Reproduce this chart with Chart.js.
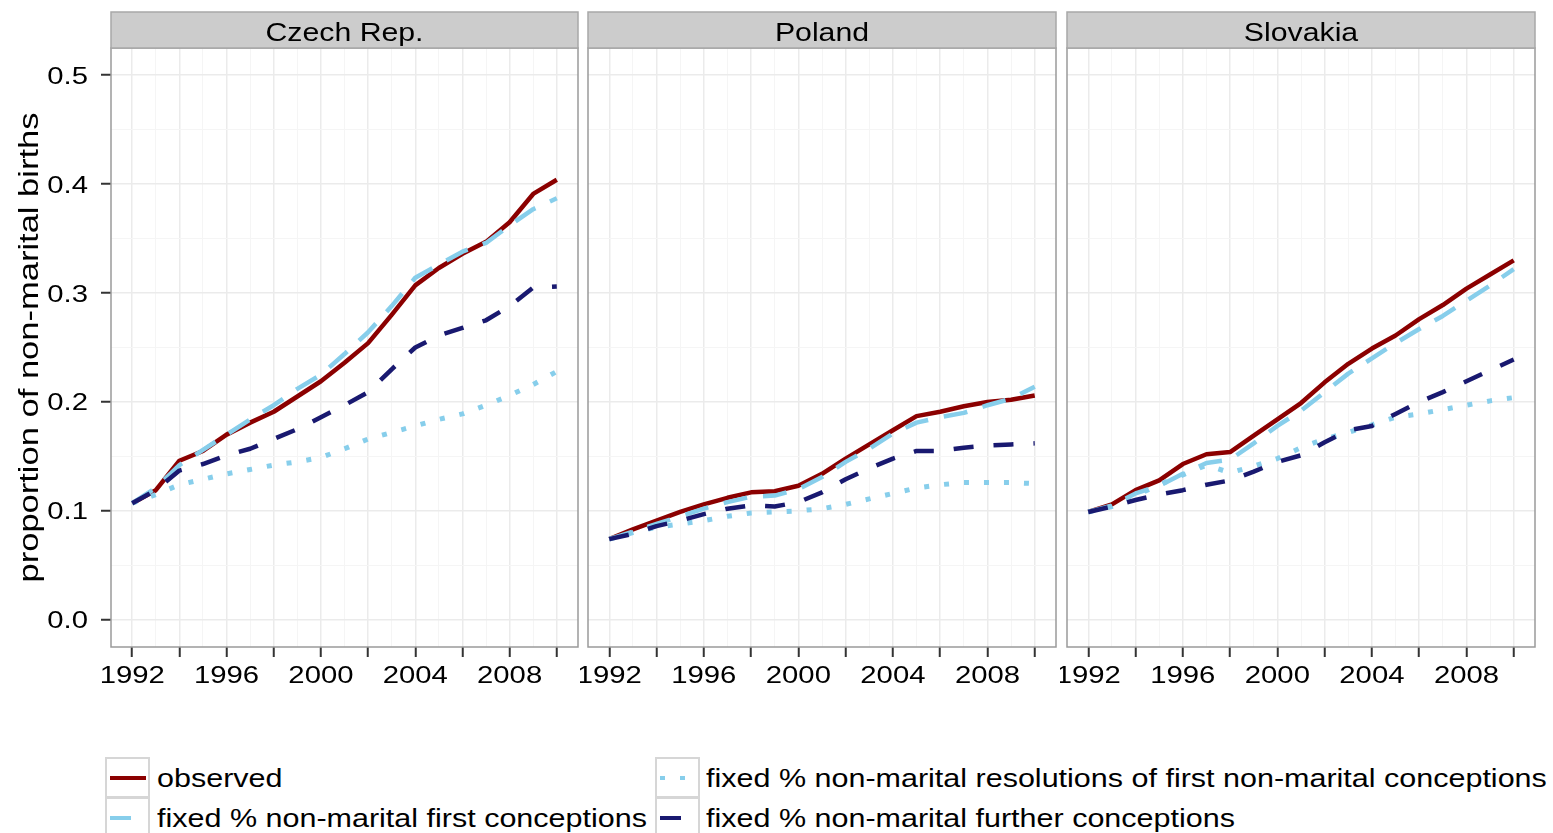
<!DOCTYPE html>
<html>
<head>
<meta charset="utf-8">
<script src="https://cdn.jsdelivr.net/npm/chart.js@4.4.1/dist/chart.umd.min.js"></script>
<style>
  body { margin: 0; width: 1553px; height: 833px; overflow: hidden; position: relative; background: #fff;
         font-family: "Liberation Sans", Arial, sans-serif; }
  canvas { position: absolute; top: 0; }
  #c1 { left: 0; }
  #c2 { left: 580px; }
  #c3 { left: 1060px; }
  .key { position: absolute; width: 45px; height: 41px; box-sizing: border-box; border: 2px solid #d6d6d6; background: #fff; }
  .key div { position: absolute; height: 4px; }
  .lab { position: absolute; font-size: 25px; line-height: 40px; height: 40px; white-space: nowrap; color: #000;
         transform: scaleX(1.22); transform-origin: 0 0; }
</style>
</head>
<body>
<canvas id="c1" width="580" height="700"></canvas>
<canvas id="c2" width="480" height="700"></canvas>
<canvas id="c3" width="493" height="700"></canvas>

<div class="key" style="left:105px;top:757px"><div style="left:3px;top:17px;width:36px;background:#8b0000"></div></div>
<div class="lab" style="left:157px;top:758px" id="l0"></div>
<div class="key" style="left:105px;top:797px"><div style="left:3px;top:17px;width:21px;background:#87ceeb"></div></div>
<div class="lab" style="left:157px;top:798px" id="l1"></div>
<div class="key" style="left:655px;top:757px"><div style="left:3px;top:17px;width:5px;background:#87ceeb"></div><div style="left:23px;top:17px;width:5px;background:#87ceeb"></div></div>
<div class="lab" style="left:706px;top:758px" id="l2"></div>
<div class="key" style="left:655px;top:797px"><div style="left:3px;top:17px;width:21px;background:#191970"></div></div>
<div class="lab" style="left:706px;top:798px" id="l3"></div>

<script>
// data
const years = [1992, 1993, 1994, 1995, 1996, 1997, 1998, 1999, 2000, 2001, 2002, 2003, 2004, 2005, 2006, 2007, 2008, 2009, 2010];
const countries = ['Czech Rep.', 'Poland', 'Slovakia'];
const seriesNames = ['observed', 'fixed % non-marital first conceptions',
  'fixed % non-marital resolutions of first non-marital conceptions', 'fixed % non-marital further conceptions'];
const xTickYears = [1992, 1994, 1996, 1998, 2000, 2002, 2004, 2006, 2008, 2010];
const xTickLabels = ['1992', '', '1996', '', '2000', '', '2004', '', '2008', ''];
const yTicks = [0, 0.1, 0.2, 0.3, 0.4, 0.5];
const yTickLabels = ['0.0', '0.1', '0.2', '0.3', '0.4', '0.5'];
const yMinor = [0.05, 0.15, 0.25, 0.35, 0.45];
const yTitle = 'proportion of non-marital births';

const czObserved = [0.107, 0.119, 0.146, 0.155, 0.170, 0.181, 0.191, 0.205, 0.219, 0.236, 0.254, 0.280, 0.307, 0.323, 0.336, 0.347, 0.365, 0.391, 0.404];
const czFirst    = [0.107, 0.121, 0.142, 0.156, 0.170, 0.184, 0.197, 0.212, 0.225, 0.244, 0.264, 0.288, 0.314, 0.326, 0.338, 0.346, 0.362, 0.377, 0.387];
const czResol    = [0.107, 0.115, 0.124, 0.129, 0.134, 0.138, 0.142, 0.145, 0.149, 0.157, 0.166, 0.172, 0.178, 0.184, 0.189, 0.197, 0.206, 0.216, 0.228];
const czFurther  = [0.107, 0.119, 0.137, 0.143, 0.151, 0.157, 0.166, 0.175, 0.186, 0.197, 0.209, 0.230, 0.250, 0.261, 0.268, 0.275, 0.288, 0.305, 0.306];

const plObserved = [0.074, 0.083, 0.091, 0.099, 0.106, 0.112, 0.117, 0.118, 0.123, 0.134, 0.148, 0.161, 0.174, 0.187, 0.191, 0.196, 0.200, 0.202, 0.206];
const plFirst    = [0.074, 0.081, 0.088, 0.095, 0.102, 0.108, 0.113, 0.114, 0.120, 0.131, 0.145, 0.157, 0.171, 0.181, 0.186, 0.190, 0.197, 0.203, 0.214];
const plResol    = [0.074, 0.080, 0.085, 0.088, 0.091, 0.095, 0.098, 0.099, 0.100, 0.102, 0.106, 0.111, 0.116, 0.121, 0.124, 0.126, 0.126, 0.126, 0.125];
const plFurther  = [0.074, 0.079, 0.086, 0.091, 0.097, 0.102, 0.105, 0.104, 0.108, 0.117, 0.129, 0.139, 0.148, 0.155, 0.155, 0.158, 0.160, 0.161, 0.162];

const skObserved = [0.099, 0.106, 0.119, 0.128, 0.143, 0.152, 0.154, 0.169, 0.184, 0.199, 0.218, 0.235, 0.249, 0.261, 0.276, 0.289, 0.304, 0.317, 0.330];
const skFirst    = [0.099, 0.105, 0.116, 0.123, 0.134, 0.144, 0.147, 0.162, 0.178, 0.192, 0.209, 0.226, 0.240, 0.254, 0.267, 0.279, 0.293, 0.307, 0.322];
const skResol    = [0.099, 0.104, 0.114, 0.124, 0.133, 0.142, 0.135, 0.141, 0.148, 0.158, 0.166, 0.172, 0.179, 0.186, 0.189, 0.193, 0.197, 0.201, 0.204];
const skFurther  = [0.099, 0.104, 0.110, 0.115, 0.119, 0.124, 0.128, 0.136, 0.145, 0.151, 0.163, 0.174, 0.178, 0.189, 0.200, 0.209, 0.219, 0.229, 0.239];

const panels = [
  [czObserved, czFirst, czResol, czFurther],
  [plObserved, plFirst, plResol, plFurther],
  [skObserved, skFirst, skResol, skFurther]
];

// line looks, same order as seriesNames
const looks = [
  { color: '#8b0000', dash: [], width: 4.5, order: 4 },
  { color: '#87ceeb', dash: [24, 16], width: 4.5, order: 3 },
  { color: '#87ceeb', dash: [5, 15], width: 5, order: 2 },
  { color: '#191970', dash: [20, 20], width: 4.5, order: 1 }
];

seriesNames.forEach((n, i) => { document.getElementById('l' + i).textContent = n; });

function isMajorY(v) { return yTicks.some(t => Math.abs(t - v) < 1e-9); }

function stretchText(ctx, txt, x, y, align, sx, font) {
  ctx.save();
  ctx.font = font;
  ctx.fillStyle = '#000';
  ctx.textAlign = align;
  ctx.textBaseline = 'alphabetic';
  ctx.translate(x, y);
  ctx.scale(sx, 1);
  ctx.fillText(txt, 0, 0);
  ctx.restore();
}

function panelDecor(name, first) {
  return {
    id: 'panelDecor',
    afterDraw(chart) {
      const { ctx, chartArea: a, scales } = chart;
      ctx.save();
      // panel border
      ctx.strokeStyle = '#9a9a9a';
      ctx.lineWidth = 1.5;
      ctx.strokeRect(a.left, a.top, a.right - a.left, a.bottom - a.top);
      // strip
      ctx.fillStyle = '#cccccc';
      ctx.fillRect(a.left, 12, a.right - a.left, a.top - 12);
      ctx.strokeStyle = '#a8a8a8';
      ctx.strokeRect(a.left, 12, a.right - a.left, a.top - 12);
      ctx.restore();
      stretchText(ctx, name, (a.left + a.right) / 2, 41, 'center', 1.21, '25px "Liberation Sans", Arial, sans-serif');
      // x labels
      xTickYears.forEach((v, i) => {
        if (xTickLabels[i]) stretchText(ctx, xTickLabels[i], scales.x.getPixelForValue(v), 683, 'center', 1.22, '24px "Liberation Sans", Arial, sans-serif');
      });
      if (first) {
        yTicks.forEach((v, i) => {
          stretchText(ctx, yTickLabels[i], 88, scales.y.getPixelForValue(v) + 8.5, 'right', 1.22, '24px "Liberation Sans", Arial, sans-serif');
        });
        ctx.save();
        ctx.font = '27px "Liberation Sans", Arial, sans-serif';
        const w = ctx.measureText(yTitle).width;
        ctx.fillStyle = '#000';
        ctx.textAlign = 'center';
        ctx.translate(38, (a.top + a.bottom) / 2);
        ctx.rotate(-Math.PI / 2);
        ctx.scale(470 / w, 1);
        ctx.fillText(yTitle, 0, 0);
        ctx.restore();
      }
    }
  };
}

function makeChart(id, idx, padLeft, padRight, first) {
  const datasets = panels[idx].map((vals, s) => ({
    label: seriesNames[s],
    data: years.map((y, k) => ({ x: y, y: vals[k] })),
    borderColor: looks[s].color,
    borderDash: looks[s].dash,
    borderWidth: looks[s].width,
    borderCapStyle: 'butt',
    borderJoinStyle: 'round',
    pointRadius: 0,
    fill: false,
    tension: 0,
    order: looks[s].order
  }));
  return new Chart(document.getElementById(id), {
    type: 'line',
    data: { datasets: datasets },
    options: {
      responsive: false,
      animation: false,
      events: [],
      layout: { padding: { left: padLeft, right: padRight, top: 48, bottom: 0 } },
      plugins: { legend: { display: false }, tooltip: { enabled: false } },
      scales: {
        x: {
          type: 'linear', min: 1991.1, max: 2010.9,
          afterBuildTicks: s => { s.ticks = years.map(v => ({ value: v })); },
          afterFit: s => { s.height = 53; },
          ticks: { display: false },
          border: { display: false },
          grid: {
            color: c => (c.tick.value % 2 === 0 ? '#ebebeb' : '#f5f5f5'),
            lineWidth: c => (c.tick.value % 2 === 0 ? 1.5 : 1),
            tickColor: c => (c.tick.value % 2 === 0 ? '#333' : 'rgba(0,0,0,0)'),
            tickWidth: 2,
            tickLength: 10
          }
        },
        y: {
          min: -0.025, max: 0.525,
          afterBuildTicks: s => { s.ticks = yTicks.concat(yMinor).sort((p, q) => p - q).map(v => ({ value: v })); },
          afterFit: s => { s.width = first ? 111 : 0; },
          ticks: { display: false },
          border: { display: false },
          grid: {
            color: c => (isMajorY(c.tick.value) ? '#ebebeb' : '#f5f5f5'),
            lineWidth: c => (isMajorY(c.tick.value) ? 1.5 : 1),
            tickColor: c => (isMajorY(c.tick.value) ? '#333' : 'rgba(0,0,0,0)'),
            tickWidth: 2,
            drawTicks: first,
            tickLength: first ? 10 : 0
          }
        }
      }
    },
    plugins: [panelDecor(countries[idx], first)]
  });
}

makeChart('c1', 0, 0, 2, true);
makeChart('c2', 1, 8, 4, false);
makeChart('c3', 2, 7, 18, false);
</script>
</body>
</html>
